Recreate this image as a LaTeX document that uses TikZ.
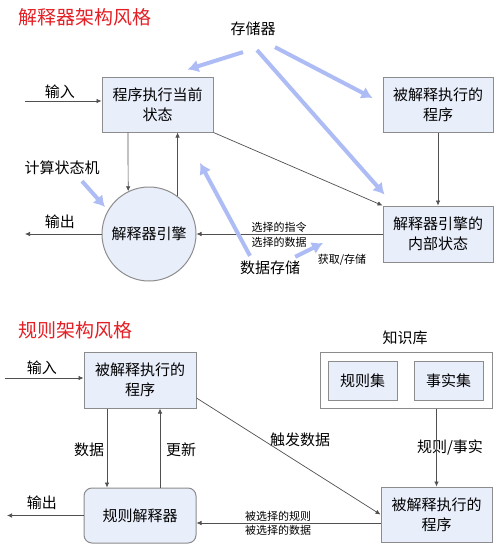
\documentclass[tikz,border=0pt]{standalone}
\usepackage{fontspec}
\setmainfont{Noto Sans CJK SC}
\usetikzlibrary{arrows.meta}
\definecolor{boxfill}{HTML}{E9EEFB}
\definecolor{boxline}{HTML}{8C8C8C}
\definecolor{hl}{HTML}{AEBCF5}
\definecolor{ttl}{HTML}{E41E24}
\definecolor{ln}{HTML}{505050}
\begin{document}
\begin{tikzpicture}[x=1pt,y=-1pt,
  box/.style={draw=boxline,line width=1pt,fill=boxfill,align=center,
    font=\fontsize{15}{20}\selectfont,inner sep=0pt},
  conn/.style={draw=ln,line width=0.7pt,-{Latex[length=5pt,width=4.5pt]}},
  big/.style={draw=hl,line width=4pt,-{Latex[length=11pt,width=13pt]}},
  lbl/.style={font=\fontsize{15}{17}\selectfont,inner sep=0pt},
  sm/.style={font=\fontsize{11}{12}\selectfont,inner sep=0pt},
  ttlstyle/.style={font=\fontsize{19}{22}\selectfont,text=ttl,inner sep=0pt},
]
\useasboundingbox[fill=white] (0,0) rectangle (499,544);

% ---------- top section ----------
\node[ttlstyle] (t1) at (85,17) {解释器架构风格};
\node[box,minimum width=111pt,minimum height=55pt] (A) at (157.5,104.5) {程序执行当前\\状态};
\node[box,minimum width=110pt,minimum height=55pt] (B) at (438,104.5) {被解释执行的\\程序};
\node[box,minimum width=110pt,minimum height=56pt] (C) at (438,234) {解释器引擎的\\内部状态};
\node[circle,draw=boxline,line width=1pt,fill=boxfill,minimum size=94pt,inner sep=0pt,
  font=\fontsize{15}{17}\selectfont] (E) at (149,234) {解释器引擎};

\node[lbl] (store) at (253,29) {存储器};
\node[lbl] (in1) at (60,92) {输入};
\node[lbl] (out1) at (60,222) {输出};
\node[lbl] (fsm) at (62,168) {计算状态机};
\node[lbl] (ds) at (270,268) {数据存储};
\node[sm] (get) at (342,260) {获取/存储};
\node[sm] (sel1) at (279,227) {选择的指令};
\node[sm] (sel2) at (279,242) {选择的数据};

\coordinate (in1s) at (25,101);
\coordinate (out1e) at (25,234);
\coordinate (fsmtip) at (105,207);
\coordinate (dstip) at (200,163);
\coordinate (gettip) at (323,243);

\draw[conn] (in1s) -- (in1s -| A.west);
\draw[conn] ([xshift=-29.5pt]A.south) -- (E.116.5);
\draw[conn] (E.53.4) -- (E.53.4 |- A.south);
\draw[conn] (E.west) -- (out1e);
\draw[conn] (C.west) -- (E.east);
\draw[conn] (A.south east) -- (C.north west);
\draw[conn] (B.south) -- (C.north);

\draw[big] ([shift={(-10,16)}]store.south) -- ([shift={(30,-7)}]A.north);
\draw[big] ([shift={(22,11)}]store.south) -- ([shift={(-10,-6.5)}]B.west);
\draw[big] ([shift={(4,14)}]store.south) -- ([shift={(2,-11)}]C.north west);
\draw[big] ([shift={(20,6)}]fsm.south) -- (fsmtip);
\draw[big] ([shift={(-20,-5)}]ds.north) -- (dstip);
\draw[big] ([shift={(-5,-4)}]ds.north east) -- (gettip);

% ---------- bottom section ----------
\node[ttlstyle] (t2) at (76,330) {规则架构风格};
\node[box,minimum width=112pt,minimum height=56pt] (D) at (140,380) {被解释执行的\\程序};
\node[lbl] (in2) at (42,368) {输入};
\coordinate (in2s) at (5,378);
\draw[conn] (in2s) -- (in2s -| D.west);

\node[lbl] (kbl) at (405,338) {知识库};
\node[draw=boxline,line width=1pt,fill=white,minimum width=172pt,minimum height=56pt,inner sep=0pt] (KB) at (406,380) {};
\node[box,minimum width=69pt,minimum height=39pt] (R) at (362.5,380.5) {规则集};
\node[box,minimum width=69pt,minimum height=39pt] (F) at (448.5,380.5) {事实集};

\node[box,minimum width=111pt,minimum height=55pt] (G) at (436.5,514.5) {被解释执行的\\程序};
\node[box,rounded corners=8pt,minimum width=112pt,minimum height=55pt] (H) at (140,515.5) {规则解释器};

\node[lbl] (dl) at (89,450) {数据};
\node[lbl] (ul) at (181,450) {更新};
\node[lbl] (out2) at (42,503) {输出};
\node[lbl] (rf) at (450,447) {规则/事实};
\node[lbl] (trig) at (300,440) {触发数据};
\node[sm] (sr) at (278,516) {被选择的规则};
\node[sm] (sd) at (278,530) {被选择的数据};
\coordinate (out2e) at (7,515.5);

\draw[conn] ([xshift=-33pt]D.south) -- ([xshift=-33pt]H.north);
\draw[conn] ([xshift=20pt]H.north) -- ([xshift=20pt]D.south);
\draw[conn] (H.west) -- (out2e);
\draw[conn] (G.north |- KB.south) -- (G.north);
\draw[conn] ([shift={(0,18)}]D.east) -- (G.west);
\draw[conn] ([shift={(0,8.5)}]G.west) -- ([shift={(0,7.5)}]H.east);
\end{tikzpicture}
\end{document}
